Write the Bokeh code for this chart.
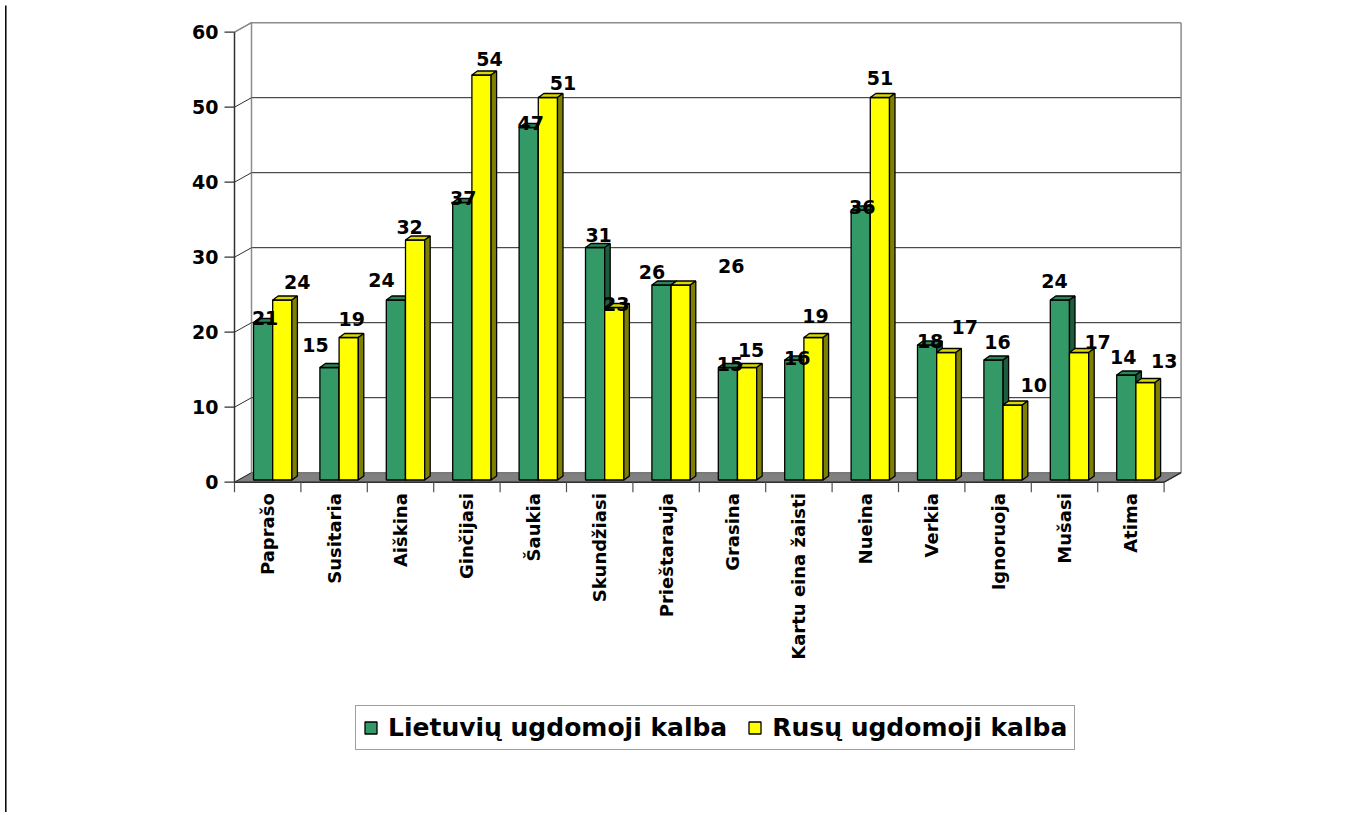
import math
from bokeh.plotting import figure
from bokeh.models import Range1d, Legend, LegendItem
from bokeh.core.properties import value
from bokeh.embed import file_html
from bokeh.resources import INLINE

# ---------------- data ----------------
categories = ["Paprašo", "Susitaria", "Aiškina", "Ginčijasi", "Šaukia", "Skundžiasi",
              "Prieštarauja", "Grasina", "Kartu eina žaisti", "Nueina", "Verkia",
              "Ignoruoja", "Mušasi", "Atima"]
lietuviu = [21, 15, 24, 37, 47, 31, 26, 15, 16, 36, 18, 16, 24, 14]
rusu = [24, 19, 32, 54, 51, 23, 26, 15, 19, 51, 17, 10, 17, 13]
y_ticks = [0, 10, 20, 30, 40, 50, 60]
series_names = ["Lietuvių ugdomoji kalba", "Rusų ugdomoji kalba"]

# label nudges (px, right / down) relative to each bar's top centre
lab_dx_g = [2, -14, -14.5, 1, 2, 3.5, -9.5, 2, 3, 1.5, 3, 4, -5.5, -3]
lab_dy_g = [-4.5, -23, -20, -4.5, -4.5, -13, -13, -4, -2.5, -3.5, -4, -18, -19, -18]
lab_dx_y = [15, 3, -5.5, 8, 15, 2, 50.5, 4, 2, 0, 18.5, 21, 18.5, 18.7]
lab_dy_y = [-18.5, -19, -13, -16, -14.5, -4, -19, -18, -21.5, -19.7, -25.7, -20.5, -11, -22]

# ---------------- geometry / style ----------------
W, H = 1362, 812
PX0, PY0 = 0, 0              # page offset of the figure
AX_X, AX_Y = 234.0, 481.7    # page position of the front value axis / zero line
XS, YS = 66.4, 7.5           # px per category, px per value unit
WALL_D = (17.0, 9.5)         # depth of the 3D box (right, up) in px
BAR_BASE = 2.2
BAR_L, BAR_W = -14.2, 19.2
BAR_D = (5.5, 4.0)
RULE_X = 5.3                 # page x of the thin rule at the left edge

GREEN, GREEN_TOP, GREEN_SIDE = "#339966", "#2b8459", "#1d5c3c"
YEL, YEL_TOP, YEL_SIDE = "#FFFF00", "#D9D900", "#808000"
FONT_NAME = "DejaVu Sans"
FONT = value(FONT_NAME)

def dx(px):
    return px / XS

def dy(px):  # px upward -> data units
    return px / YS

N = len(categories)
x_range = Range1d((PX0 - AX_X) / XS, (PX0 + W - AX_X) / XS)
y_range = Range1d((AX_Y - (PY0 + H)) / YS, (AX_Y - PY0) / YS)

p = figure(width=W, height=H, x_range=x_range, y_range=y_range,
           output_backend="svg", toolbar_location=None,
           x_axis_location=None, y_axis_location=None, min_border=0,
           outline_line_color=None, background_fill_color="white",
           border_fill_color="white")
for g in p.grid:
    g.visible = False

wdx, wdy = dx(WALL_D[0]), dy(WALL_D[1])
ymax = y_ticks[-1]

# page side rule
rx = (RULE_X - AX_X) / XS
p.segment(x0=[rx], y0=[y_range.start], x1=[rx], y1=[(AX_Y - 5) / YS],
          line_color="black", line_width=1.5)

# floor
p.patch(x=[0, N, N + wdx, wdx], y=[0, 0, wdy, wdy], fill_color="#808080",
        line_color="#606060", line_width=1)

# back wall grid lines
inner = [t for t in y_ticks if 0 < t < ymax]
p.segment(x0=[wdx] * len(inner), y0=[t + wdy for t in inner],
          x1=[N + wdx] * len(inner), y1=[t + wdy for t in inner],
          line_color="#202020", line_width=1)
# back wall edges
p.segment(x0=[wdx, wdx, N + wdx], y0=[wdy, ymax + wdy, wdy],
          x1=[wdx, N + wdx, N + wdx], y1=[ymax + wdy, ymax + wdy, ymax + wdy],
          line_color="#8c8c8c", line_width=1.5)
# left wall diagonals
p.segment(x0=[0] * len(y_ticks), y0=y_ticks, x1=[wdx] * len(y_ticks),
          y1=[t + wdy for t in y_ticks], line_color="#303030", line_width=1)
p.segment(x0=[0], y0=[ymax], x1=[wdx], y1=[ymax + wdy], line_color="#8c8c8c", line_width=1.5)

# front value axis
p.segment(x0=[0], y0=[0], x1=[0], y1=[ymax], line_color="#303030", line_width=1.5)
p.segment(x0=[dx(-10)] * len(y_ticks), y0=y_ticks, x1=[0] * len(y_ticks), y1=y_ticks,
          line_color="#303030", line_width=1.2)
p.text(x=[dx(-16)] * len(y_ticks), y=y_ticks, text=[str(t) for t in y_ticks],
       text_font=FONT, text_font_style="bold", text_font_size="19px",
       text_align="right", text_baseline="middle", text_color="black")

# front category axis
p.segment(x0=[0, N], y0=[0, 0], x1=[N, N + wdx], y1=[0, wdy], line_color="#303030", line_width=1.5)
p.segment(x0=list(range(N + 1)), y0=[0] * (N + 1), x1=list(range(N + 1)),
          y1=[dy(-10)] * (N + 1), line_color="#505050", line_width=1.2)
p.text(x=[i + 0.5 for i in range(N)], y=[dy(-11)] * N, text=categories,
       angle=math.pi / 2, text_font=FONT, text_font_style="bold", text_font_size="18px",
       text_align="right", text_baseline="middle", text_color="black")

# bars
bdx, bdy = dx(BAR_D[0]), dy(BAR_D[1])
base = dy(BAR_BASE)

def bar_shapes(vals, s):
    left = [i + 0.5 + dx(BAR_L + s * BAR_W) for i in range(N)]
    right = [l + dx(BAR_W) for l in left]
    top = [base + v for v in vals]
    tops_x = [[l, r, r + bdx, l + bdx] for l, r in zip(left, right)]
    tops_y = [[t, t, t + bdy, t + bdy] for t in top]
    side_x = [[r, r + bdx, r + bdx, r] for r in right]
    side_y = [[base, base + bdy, t + bdy, t] for t in top]
    return left, right, top, tops_x, tops_y, side_x, side_y

renderers = []
for s, (vals, cf, ct, cs) in enumerate([(lietuviu, GREEN, GREEN_TOP, GREEN_SIDE),
                                         (rusu, YEL, YEL_TOP, YEL_SIDE)]):
    left, right, top, tx, ty, sx, sy = bar_shapes(vals, s)
    r = p.quad(left=left, right=right, bottom=[base] * N, top=top,
               fill_color=cf, line_color="black", line_width=1.3)
    p.patches(xs=tx, ys=ty, fill_color=ct, line_color="black", line_width=1.3)
    p.patches(xs=sx, ys=sy, fill_color=cs, line_color="black", line_width=1.3)
    renderers.append(r)

# value labels
for s, (vals, ldx, ldy) in enumerate([(lietuviu, lab_dx_g, lab_dy_g), (rusu, lab_dx_y, lab_dy_y)]):
    cx = [i + 0.5 + dx(BAR_L + s * BAR_W + BAR_W / 2) for i in range(N)]
    lx = [c + dx(a) for c, a in zip(cx, ldx)]
    ly = [base + v - dy(b) for v, b in zip(vals, ldy)]
    p.text(x=lx, y=ly, text=[str(v) for v in vals], text_font=FONT, text_font_style="bold",
           text_font_size="19px", text_align="center", text_baseline="middle", text_color="black")

legend = Legend(items=[LegendItem(label=series_names[0], renderers=[renderers[0]]),
                       LegendItem(label=series_names[1], renderers=[renderers[1]])],
                orientation="horizontal", location=(355, H - 750),
                label_text_font=FONT_NAME, label_text_font_style="bold", label_text_font_size="25px",
                label_text_color="black",
                glyph_width=15, glyph_height=15, label_standoff=10, spacing=20,
                padding=7, margin=0, border_line_color="#404040", border_line_width=1,
                background_fill_color="white", background_fill_alpha=1.0)
p.add_layout(legend, "center")

open("out.html", "w").write(file_html(p, INLINE))
